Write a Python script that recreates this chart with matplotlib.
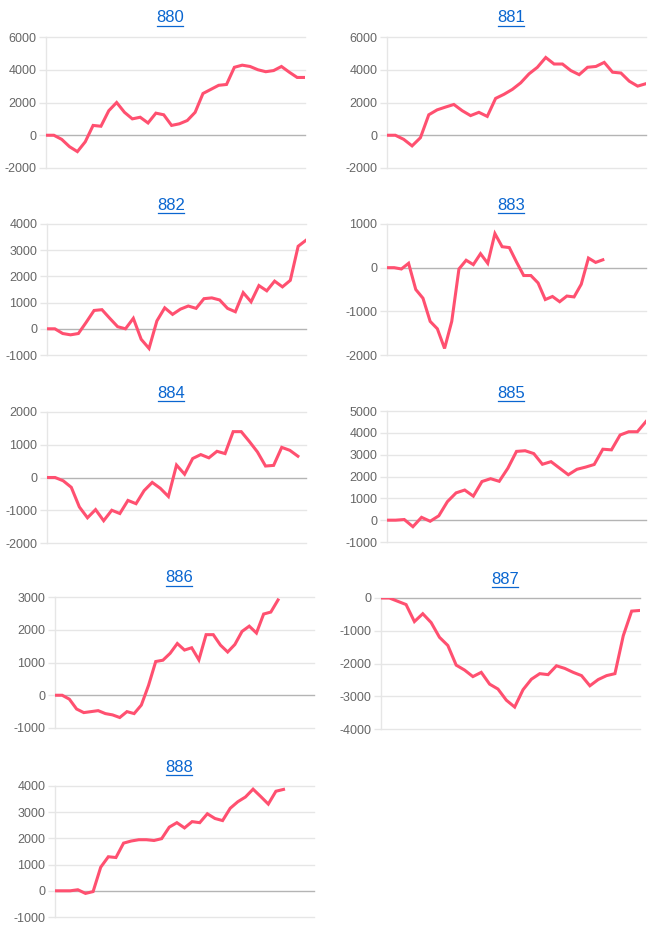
import matplotlib
matplotlib.use('Agg')
import matplotlib.pyplot as plt
from matplotlib.lines import Line2D
import numpy as np

plt.rcParams['font.family'] = ['Liberation Sans', 'DejaVu Sans']

W, H = 667, 934

titles = ['880', '881', '882', '883', '884', '885', '886', '887', '888']

s880 = [0, 0, -250, -700, -1000, -400, 600, 550, 1500, 2000, 1400, 1000, 1100, 750,
        1350, 1250, 600, 700, 900, 1400, 2550, 2800, 3050, 3100, 4150, 4280, 4200,
        4000, 3880, 3950, 4200, 3850, 3530, 3530]
s881 = [0, 0, -250, -650, -150, 1250, 1550, 1720, 1880, 1500, 1200, 1400, 1150, 2250,
        2500, 2800, 3200, 3750, 4150, 4750, 4350, 4350, 3950, 3700, 4150, 4200, 4450,
        3850, 3800, 3300, 3000, 3150]
s882 = [0, 0, -180, -230, -180, 250, 700, 730, 400, 80, 0, 400, -400, -750, 300, 800,
        550, 750, 870, 780, 1150, 1180, 1100, 780, 650, 1380, 1030, 1650, 1450, 1820,
        1600, 1850, 3150, 3380]
s883 = [0, 0, -30, 100, -500, -700, -1230, -1400, -1850, -1230, -30, 170, 70, 320, 100,
        780, 480, 460, 130, -180, -180, -350, -730, -660, -780, -650, -670, -380, 220,
        120, 180]
s884 = [0, 0, -100, -300, -900, -1230, -980, -1320, -1000, -1100, -700, -800, -400,
        -150, -330, -580, 380, 100, 580, 700, 600, 800, 730, 1400, 1400, 1100, 780,
        350, 370, 920, 830, 650]
s885 = [0, 0, 30, -300, 130, -50, 200, 850, 1250, 1380, 1100, 1770, 1900, 1780, 2380,
        3150, 3180, 3050, 2560, 2680, 2380, 2080, 2330, 2430, 2550, 3250, 3220, 3900,
        4050, 4050, 4520]
s886 = [0, 0, -120, -420, -530, -500, -470, -560, -600, -680, -500, -560, -300, 300,
        1030, 1070, 1280, 1580, 1380, 1450, 1080, 1850, 1850, 1530, 1320, 1550, 1950,
        2110, 1900, 2480, 2540, 2910]
s887 = [0, 0, -100, -200, -720, -480, -750, -1200, -1450, -2050, -2200, -2400, -2270,
        -2630, -2780, -3120, -3330, -2800, -2480, -2310, -2340, -2070, -2150, -2270,
        -2370, -2680, -2490, -2370, -2310, -1150, -400, -380]
s888 = [0, 0, 0, 40, -100, -30, 900, 1300, 1270, 1820, 1900, 1950, 1950, 1920, 1990,
        2430, 2600, 2400, 2640, 2600, 2940, 2760, 2680, 3150, 3400, 3580, 3880, 3600,
        3310, 3800, 3870]

series = [s880, s881, s882, s883, s884, s885, s886, s887, s888]
slots = [34, 32, 34, 37, 33, 31, 37, 32, 35]
y_ranges = [(-2000, 6000, 2000), (-2000, 6000, 2000), (-1000, 4000, 1000),
            (-2000, 1000, 1000), (-2000, 2000, 1000), (-1000, 5000, 1000),
            (-1000, 3000, 1000), (-4000, 0, 1000), (-1000, 4000, 1000)]

# pixel boxes: left, right, top, bottom
boxes = [(46, 305, 37, 168), (387, 646, 37, 168),
         (47, 306, 224, 355), (387, 646, 224, 355),
         (47, 306, 412, 543), (387, 646, 411, 542),
         (55, 314, 597, 728), (381, 640, 598, 729),
         (55, 314, 786, 917)]
title_pos = [(170, 18), (511, 18), (171, 205), (511, 205), (171, 393), (511, 393),
             (179, 578), (505, 579), (179, 767)]

line_color = '#ff5070'
grid_color = '#e6e6e6'
zero_color = '#b4b4b4'
link_color = '#0a66d0'

fig = plt.figure(figsize=(W / 100, H / 100), dpi=100)

for i, name in enumerate(titles):
    l, r, t, b = boxes[i]
    ax = fig.add_axes([l / W, 1 - b / H, (r - l) / W, (b - t) / H])
    vals = series[i]
    ax.plot(np.arange(len(vals)), vals, color=line_color, lw=2.2,
            solid_joinstyle='miter', zorder=3)
    ax.set_xlim(0, slots[i] - 1)
    lo, hi, step = y_ranges[i]
    ax.set_ylim(lo, hi)
    ticks = np.arange(lo, hi + step, step)
    ax.set_yticks(ticks)
    ax.set_yticklabels([str(int(v)) for v in ticks])
    ax.set_xticks([])
    for v in ticks:
        ax.axhline(v, color=zero_color if v == 0 else grid_color, lw=1, zorder=1,
                   clip_on=False)
    for sp in ['top', 'right', 'bottom']:
        ax.spines[sp].set_visible(False)
    ax.spines['left'].set_color(grid_color)
    ax.spines['left'].set_linewidth(1)
    ax.tick_params(axis='y', length=5, width=1, color=grid_color, labelsize=9,
                   labelcolor='#666666', pad=2)

    tx, ty = title_pos[i]
    fig.text(tx / W, 1 - ty / H, name, ha='center', va='center', fontsize=12,
             color=link_color)
    fig.add_artist(Line2D([(tx - 13) / W, (tx + 13) / W],
                          [1 - (ty + 7.5) / H, 1 - (ty + 7.5) / H],
                          color=link_color, lw=0.9))

fig.savefig('out.png', dpi=100)
